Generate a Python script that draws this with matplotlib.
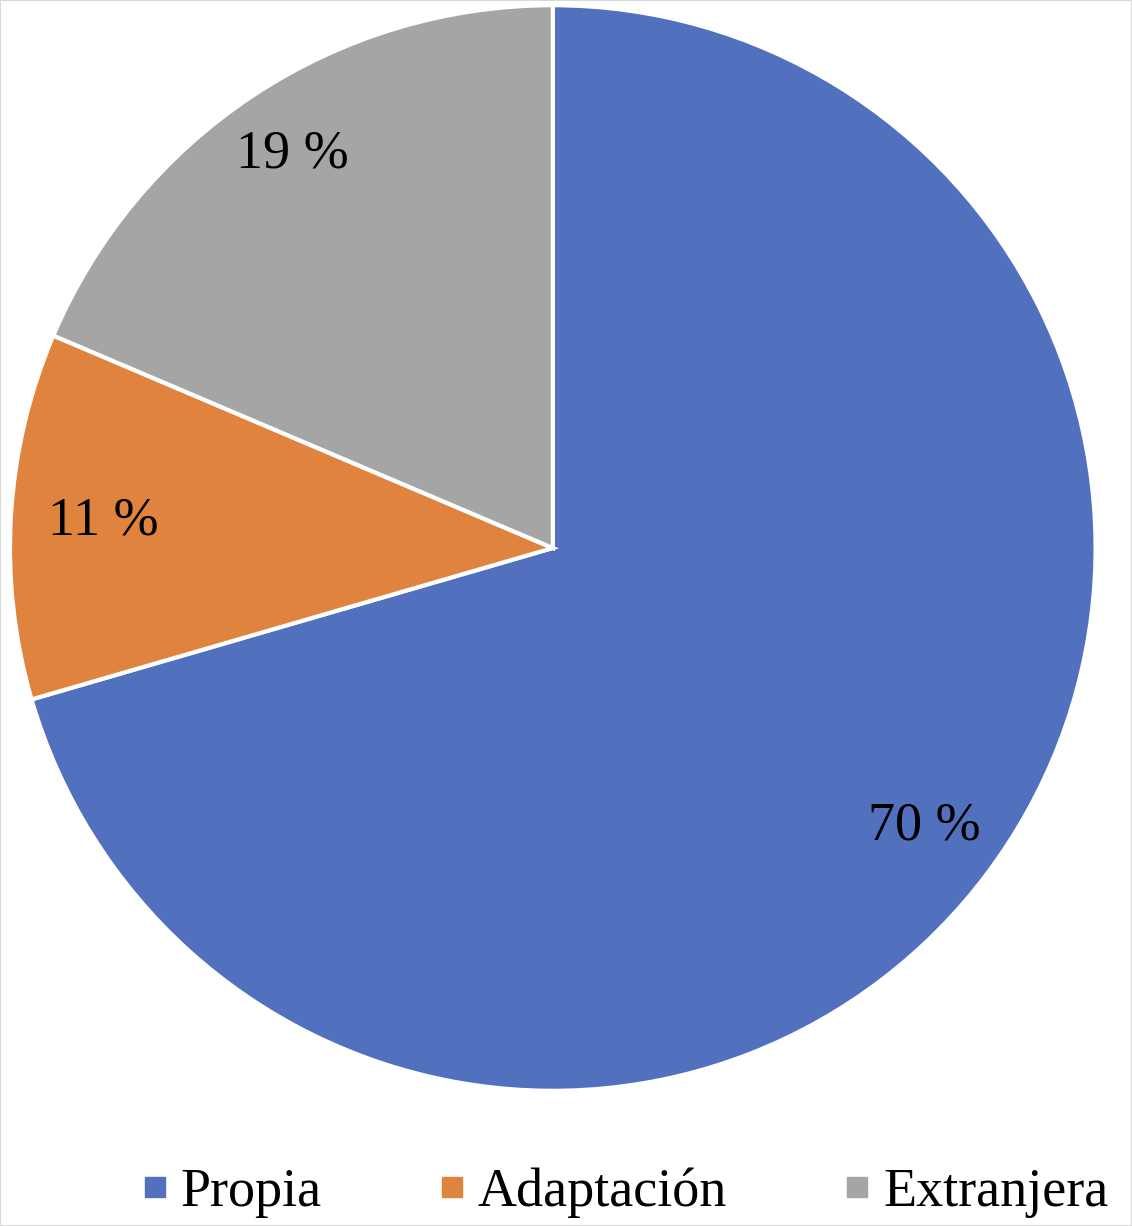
import matplotlib.pyplot as plt
from matplotlib.lines import Line2D
from matplotlib.patches import Rectangle

categories = ['Propia', 'Adaptación', 'Extranjera']
values = [70.5, 10.9, 18.6]
pct_labels = ['70 %', '11 %', '19 %']
colors = ['#5171bf', '#e0833f', '#a5a5a5']

plt.rcParams['font.family'] = ['Liberation Serif', 'DejaVu Serif']

fig = plt.figure(figsize=(11.32, 12.26), dpi=100)
ax = fig.add_axes([0.00883, 0.110, 0.959, 0.886])

wedges, texts = ax.pie(
    values, colors=colors, startangle=90, counterclock=False,
    labels=pct_labels, labeldistance=1.0,
    wedgeprops=dict(edgecolor='white', linewidth=3),
    textprops=dict(fontsize=39, color='black'))
# pull the labels inside the slices
for t, d in zip(texts, [0.855, 0.83, 0.87]):
    x, y = t.get_position()
    t.set_position((x * d, y * d))
    t.set_ha('center')
    t.set_va('center')
ax.set_xlim(-1, 1)
ax.set_ylim(-1, 1)
ax.set_aspect('equal')

handles = [Line2D([], [], linestyle='none', marker='s', markersize=14,
                  markerfacecolor=c, markeredgecolor=c) for c in colors]
fig.legend(handles, categories, loc='center', bbox_to_anchor=(0.553, 0.027),
           ncol=3, frameon=False, fontsize=39, handlelength=0.4,
           handletextpad=0.28, columnspacing=2.2)

# thin frame around the picture
fig.patches.append(Rectangle((0, 0), 1, 1, transform=fig.transFigure,
                             fill=False, edgecolor='#d9d9d9', linewidth=1.5))

fig.savefig('out.png', dpi=100)
